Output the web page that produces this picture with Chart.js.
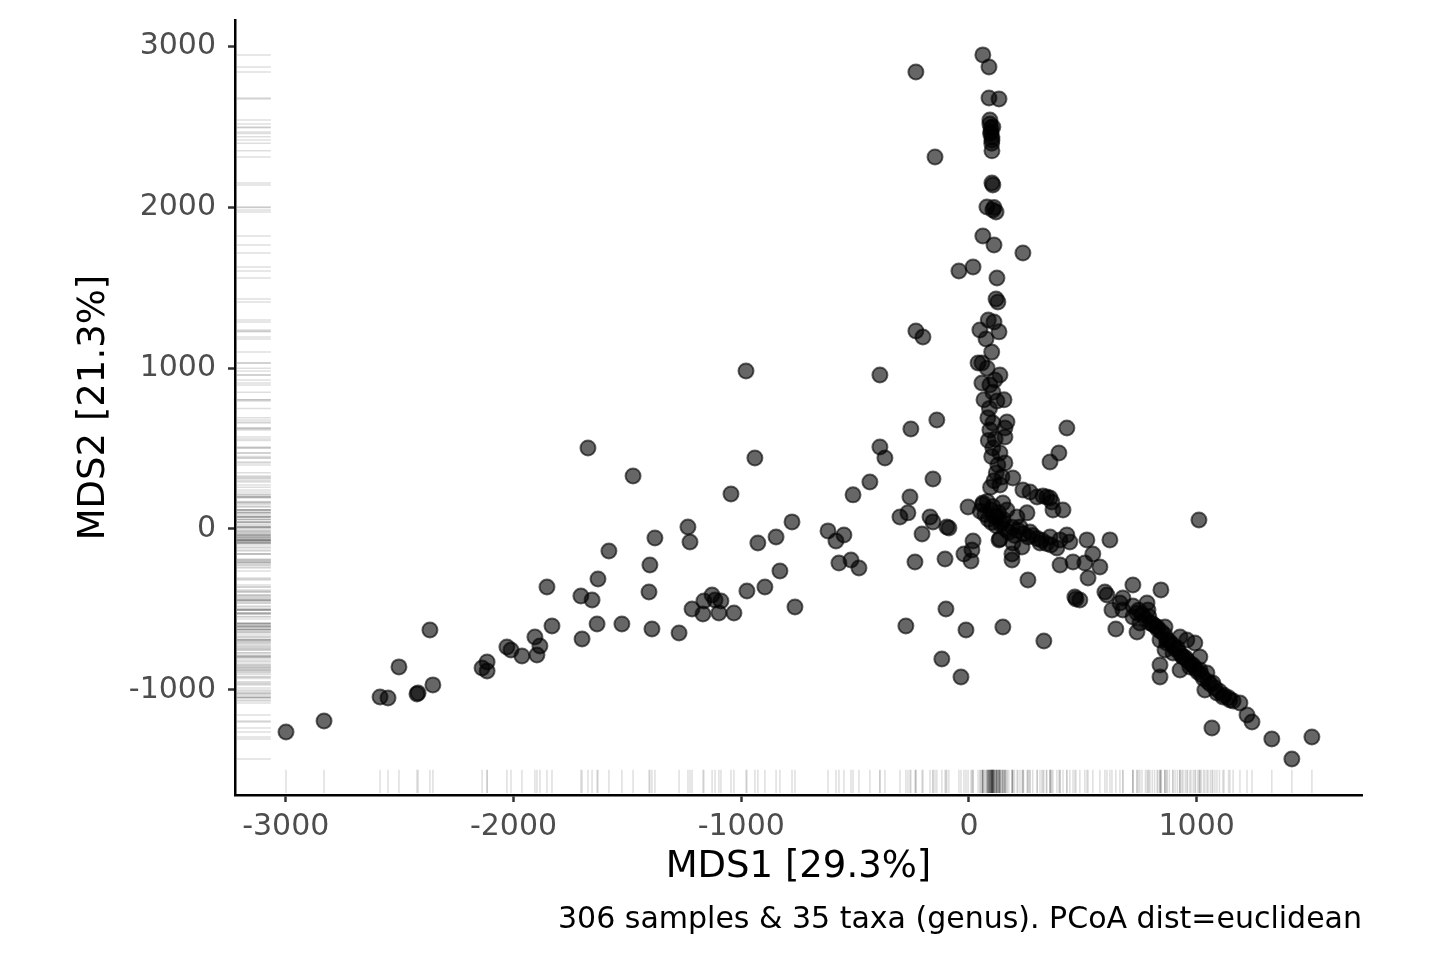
<!DOCTYPE html>
<html>
<head>
<meta charset="utf-8">
<title>PCoA euclidean</title>
<script src="https://cdn.jsdelivr.net/npm/chart.js@4.4.1/dist/chart.umd.min.js"></script>
<style>
  html, body { margin: 0; padding: 0; background: #fff; }
</style>
</head>
<body>
<canvas id="pcoa" width="1440" height="960"></canvas>
<script>
const xTicks = [-3000, -2000, -1000, 0, 1000];
const yTicks = [-1000, 0, 1000, 2000, 3000];
const xTitle = "MDS1 [29.3%]";
const yTitle = "MDS2 [21.3%]";
const caption = "306 samples & 35 taxa (genus). PCoA dist=euclidean";

// [MDS1, MDS2], grouped by region
const leftArm = [
  [-2999,-1263],[-2832,-1194],[-2586,-1045],[-2551,-1051],[-2503,-858],[-2424,-1026],[-2419,-1020],
  [-2367,-628],[-2354,-970],[-2116,-827],[-2138,-865],[-2116,-883],[-2029,-734],[-2011,-753],
  [-1963,-790],[-1906,-672],[-1884,-728],[-1897,-784],[-1853,-361],[-1831,-603],[-1699,-684],
  [-1704,-417],[-1655,-442],[-1633,-591],[-1629,-311],[-1673,504],[-1581,-137],[-1524,-591],
  [-1475,330],[-1379,-56],[-1401,-224],[-1405,-392],[-1392,-622],[-1273,-647],[-1234,12],
  [-1225,-81],[-1128,-411],[-1164,-448],[-1089,-448],[-1216,-498],[-1168,-529],[-1098,-523],
  [-1032,-523],[-1115,-442],[-975,-386],[-896,-361],[-830,-261],[-764,-485],[-927,-87],
  [-847,-50],[-777,44],[-1045,218],[-940,442],[-979,983]
];
const middle = [
  [-619,-12],[-549,-37],[-584,-75],[-571,-212],[-518,-193],[-483,-243],[-509,212],[-435,292],
  [-391,510],[-369,442],[-391,958],[-255,622],[-141,678],[-158,311],[-259,199],[-268,100],
  [-303,75],[-171,75],[-158,44],[-97,12],[-88,6],[-206,-31],[-4,137],[61,162],[-237,-205],
  [-105,-187],[132,-68],[18,-75],[13,-131],[-22,-156],[9,-199],[-101,-498],[-277,-603],
  [-13,-628],[-119,-809],[-35,-921],[149,-610],[329,-697],[259,-317],[189,-193],[470,-435],
  [-233,1232],[-202,1194]
];
const verticalArm = [
  [61,2949],[88,2874],[-233,2843],[88,2681],[132,2675],[92,2544],[92,2519],[97,2495],[97,2470],
  [101,2439],[101,2420],[101,2352],[-149,2314],[101,2152],[105,2140],[79,2003],[105,1984],
  [119,1972],[61,1823],[110,1767],[237,1717],[-44,1605],[18,1630],[123,1561],[119,1431],
  [127,1412],[48,1238],[110,1288],[132,1226],[75,1182],[57,1033],[40,1033],[136,958],[114,927],
  [57,908],[92,896],[66,803],[123,796],[154,803],[83,691],[105,659],[167,666],[158,628],[92,616],
  [158,572],[430,628],[395,473],[356,417],[105,504],[136,473],[127,398],[158,411],[145,323],
  [193,317],[136,274],[237,243],[268,230],[325,205],[356,193],[149,162],[167,118],[123,75],
  [145,44],[369,118],[413,118],
  [95,260],[110,300],[120,350],[100,450],[85,550],[115,560],[90,750],[105,850],[80,1000],
  [100,1100],[85,1300],[105,2500],[95,2460],[100,2400],[110,2000]
];
const junction = [
  [299,199],[342,199],[364,168],[211,75],[255,100],[224,12],[268,-19],[312,-87],[356,-50],
  [400,-68],[430,-37],[443,-81],[386,-118],[518,-68],[619,-68],[136,-62],[193,-87],[233,-112],
  [189,-156],[400,-224],[457,-205],[509,-212],[544,-156],[575,-236],[523,-305],[465,-423],
  [597,-392],[676,-429],[720,-348],
  [50,110],[70,90],[85,60],[95,120],[110,80],[100,40],[120,20],[140,30],[160,0],[175,-20],
  [190,10],[200,-40],[215,-10],[240,-30],[260,-50],[280,-40],[300,-60],[320,-70],[340,-90],
  [360,-100],[60,150],[80,170],[105,140],[130,100],[150,60]
];
const rightArm = [
  [1010,56],[487,-442],[843,-379],[606,-411],[663,-460],[676,-504],[628,-504],[782,-460],
  [786,-504],[738,-523],[720,-547],[751,-585],[795,-585],[826,-610],[861,-610],[645,-622],
  [738,-641],[839,-691],[869,-709],[927,-672],[957,-691],[992,-709],[861,-753],[896,-771],
  [839,-846],[839,-921],[940,-796],[1014,-796],[927,-877],[970,-858],[1014,-877],[1045,-896],
  [1036,-1002],[1071,-958],[1089,-1020],[1115,-1045],[1146,-1064],[1190,-1082],[1221,-1157],
  [1243,-1201],[1067,-1238],[1330,-1306],[1506,-1294],[1418,-1431],
  [720,-480],[745,-505],[760,-530],[775,-560],[790,-545],[805,-590],[815,-600],[830,-625],
  [845,-640],[860,-660],[870,-690],[880,-700],[895,-720],[905,-745],[915,-740],[925,-770],
  [935,-790],[950,-800],[960,-820],[975,-840],[985,-850],[995,-870],[1005,-890],[1020,-905],
  [1030,-930],[1050,-950],[1060,-965],[1080,-990],[1100,-1010],[1120,-1035],[1140,-1050],
  [1160,-1070]
];
const samples = leftArm.concat(middle, verticalArm, junction, rightArm);

const FONT = "'DejaVu Sans', sans-serif";
Chart.defaults.font.family = FONT;

// ggplot-style rug: one faint line per sample on each axis
const rugPlugin = {
  id: "rug",
  beforeDatasetsDraw(chart) {
    const { ctx, chartArea: a, scales: { x, y } } = chart;
    const lenX = a.height * 0.03;
    const lenY = a.width * 0.03;
    ctx.save();
    ctx.strokeStyle = "rgba(0,0,0,0.13)";
    ctx.lineWidth = 1.5;
    samples.forEach(([mx, my]) => {
      const px = x.getPixelForValue(mx);
      const py = y.getPixelForValue(my);
      ctx.beginPath();
      ctx.moveTo(px, a.bottom - 2);
      ctx.lineTo(px, a.bottom - 2 - lenX);
      ctx.stroke();
      ctx.beginPath();
      ctx.moveTo(a.left + 2, py);
      ctx.lineTo(a.left + 2 + lenY, py);
      ctx.stroke();
    });
    ctx.restore();
  }
};

const captionPlugin = {
  id: "caption",
  afterDraw(chart) {
    const { ctx, chartArea: a } = chart;
    ctx.save();
    ctx.font = "30px " + FONT;
    ctx.fillStyle = "#000";
    ctx.textAlign = "right";
    ctx.textBaseline = "middle";
    ctx.fillText(caption, a.right, 920);
    ctx.restore();
  }
};

new Chart(document.getElementById("pcoa"), {
  type: "scatter",
  data: {
    datasets: [{
      data: samples.map(([x, y]) => ({ x, y })),
      backgroundColor: "rgba(0,0,0,0.6)",
      borderColor: "rgba(0,0,0,0.6)",
      borderWidth: 2,
      pointRadius: 7.5,
      pointHoverRadius: 7.5
    }]
  },
  options: {
    responsive: false,
    animation: false,
    layout: { padding: { left: 72, right: 78, top: 20, bottom: 70 } },
    plugins: { legend: { display: false }, tooltip: { enabled: false } },
    scales: {
      x: {
        type: "linear",
        min: -3223,
        max: 1726,
        afterBuildTicks: s => { s.ticks = xTicks.map(v => ({ value: v })); },
        afterFit: s => { s.height = 95; s.paddingLeft = 0; s.paddingRight = 0; },
        grid: { drawOnChartArea: false, drawTicks: true, tickLength: 7, tickColor: "#333", tickWidth: 2.5 },
        border: { color: "#000", width: 2.5 },
        ticks: { color: "#4D4D4D", font: { size: 30 }, padding: 7, callback: v => String(v) },
        title: { display: true, text: xTitle, color: "#000", font: { size: 37 }, padding: 0 }
      },
      y: {
        type: "linear",
        min: -1655,
        max: 3166,
        afterBuildTicks: s => { s.ticks = yTicks.map(v => ({ value: v })); },
        afterFit: s => { s.width = 163; s.paddingTop = 0; s.paddingBottom = 0; },
        grid: { drawOnChartArea: false, drawTicks: true, tickLength: 7, tickColor: "#333", tickWidth: 2.5 },
        border: { color: "#000", width: 2.5 },
        ticks: { color: "#4D4D4D", font: { size: 30 }, padding: 12, callback: v => String(v) },
        title: { display: true, text: yTitle, color: "#000", font: { size: 37 }, padding: 0 }
      }
    }
  },
  plugins: [rugPlugin, captionPlugin]
});
</script>
</body>
</html>
